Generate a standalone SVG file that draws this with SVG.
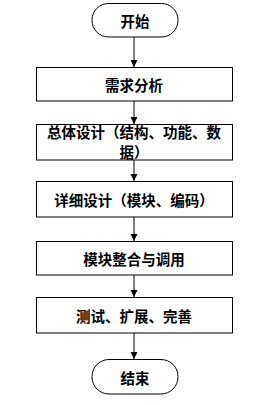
<svg xmlns="http://www.w3.org/2000/svg" width="255" height="405" viewBox="0 0 255 405">
<style>
.n{fill:#fff;stroke:#000;stroke-width:1}
.t{font-family:"Noto Sans CJK SC","Noto Sans",sans-serif;font-size:14.5px;font-weight:bold;fill:#000;text-anchor:middle;dominant-baseline:central}
.c{stroke:#000;stroke-width:1;fill:none;marker-end:url(#a)}
</style>
<defs>
<marker id="a" markerWidth="8" markerHeight="8" refX="7" refY="4" orient="auto" markerUnits="userSpaceOnUse">
<path d="M0,0.5 L7,4 L0,7.5 Z" fill="#000"/>
</marker>
</defs>
<rect width="255" height="405" fill="#fff"/>
<g id="connectors">
<line class="c" x1="134" y1="37" x2="134" y2="67"/>
<line class="c" x1="134" y1="101" x2="134" y2="124"/>
<line class="c" x1="134" y1="160" x2="134" y2="181"/>
<line class="c" x1="134" y1="217" x2="134" y2="241"/>
<line class="c" x1="134" y1="275" x2="134" y2="297"/>
<line class="c" x1="134" y1="333" x2="134" y2="359"/>
</g>
<g id="start">
<rect class="n" x="92" y="3.5" width="86" height="33.5" rx="16.5"/>
<text class="t" x="135" y="20.5">开始</text>
</g>
<g id="n1">
<rect class="n" x="36.5" y="67.5" width="196" height="33.5"/>
<text class="t" x="134" y="84">需求分析</text>
</g>
<g id="n2">
<rect class="n" x="36.5" y="124.5" width="196" height="35.5"/>
<text class="t" x="134" y="131">总体设计（结构、功能、数</text>
<text class="t" x="134" y="151">据）</text>
</g>
<g id="n3">
<rect class="n" x="36.5" y="181.5" width="196" height="35.5"/>
<text class="t" x="134" y="199">详细设计（模块、编码）</text>
</g>
<g id="n4">
<rect class="n" x="36.5" y="241.5" width="196" height="33.5"/>
<text class="t" x="134" y="258">模块整合与调用</text>
</g>
<g id="n5">
<rect class="n" x="36.5" y="297.5" width="196" height="35.5"/>
<text class="t" x="134" y="315">测试、扩展、完善</text>
</g>
<g id="end">
<rect class="n" x="92" y="359.5" width="86" height="34.5" rx="17"/>
<text class="t" x="135" y="377">结束</text>
</g>
</svg>
